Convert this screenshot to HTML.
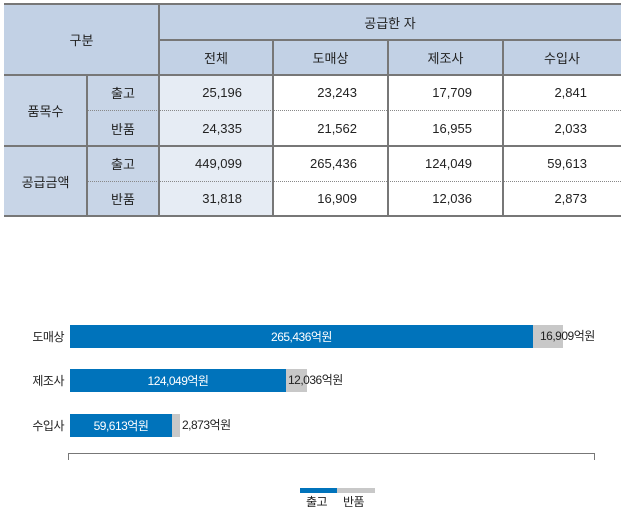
<!DOCTYPE html>
<html><head><meta charset="utf-8"><style>
body{margin:0;width:621px;height:512px;background:#fff;position:relative;overflow:hidden;font-family:"Liberation Sans","Noto Sans CJK KR",sans-serif;font-size:13px;color:#222}
.a{position:absolute;box-sizing:border-box}
.c{display:flex;align-items:center;justify-content:center}
.r{display:flex;align-items:center;justify-content:flex-end}
.hl{position:absolute;height:0}
.vl{position:absolute;width:0}
</style></head><body>
<!-- backgrounds -->
<div class="a" style="left:4px;top:4px;width:617px;height:71px;background:#c2d1e5"></div>
<div class="a" style="left:4px;top:75px;width:155px;height:141px;background:#c8d5e7"></div>
<div class="a" style="left:159px;top:75px;width:114px;height:141px;background:#e6ecf4"></div>
<!-- lines -->
<div class="hl" style="left:4px;top:3px;width:617px;border-top:2px solid #777"></div>
<div class="hl" style="left:159px;top:39px;width:462px;border-top:2px solid #777"></div>
<div class="hl" style="left:4px;top:74px;width:617px;border-top:2px solid #777"></div>
<div class="hl" style="left:87px;top:110px;width:534px;border-top:1px dotted #888"></div>
<div class="hl" style="left:4px;top:145px;width:617px;border-top:2px solid #777"></div>
<div class="hl" style="left:87px;top:181px;width:534px;border-top:1px dotted #888"></div>
<div class="hl" style="left:4px;top:215px;width:617px;border-top:2px solid #777"></div>
<div class="vl" style="left:158px;top:4px;height:212px;border-left:2px solid #777"></div>
<div class="vl" style="left:86px;top:75px;height:141px;border-left:2px solid #777"></div>
<div class="vl" style="left:272px;top:40px;height:176px;border-left:2px solid #777"></div>
<div class="vl" style="left:387px;top:40px;height:176px;border-left:2px solid #777"></div>
<div class="vl" style="left:502px;top:40px;height:176px;border-left:2px solid #777"></div>
<!-- header text -->
<div class="a c" style="left:4px;top:4px;width:155px;height:71px">구분</div>
<div class="a c" style="left:159px;top:4px;width:462px;height:36px">공급한 자</div>
<div class="a c" style="left:159px;top:40px;width:114px;height:35px">전체</div>
<div class="a c" style="left:273px;top:40px;width:115px;height:35px">도매상</div>
<div class="a c" style="left:388px;top:40px;width:115px;height:35px">제조사</div>
<div class="a c" style="left:503px;top:40px;width:118px;height:35px">수입사</div>
<div class="a c" style="left:4px;top:75px;width:83px;height:71px">품목수</div>
<div class="a c" style="left:4px;top:146px;width:83px;height:70px">공급금액</div>
<div class="a c" style="left:87px;top:75px;width:72px;height:35px">출고</div>
<div class="a c" style="left:87px;top:110px;width:72px;height:36px">반품</div>
<div class="a c" style="left:87px;top:146px;width:72px;height:35px">출고</div>
<div class="a c" style="left:87px;top:181px;width:72px;height:35px">반품</div>
<!-- numbers -->
<div class="a r" style="left:159px;top:75px;width:83px;height:35px">25,196</div>
<div class="a r" style="left:273px;top:75px;width:84px;height:35px">23,243</div>
<div class="a r" style="left:388px;top:75px;width:84px;height:35px">17,709</div>
<div class="a r" style="left:503px;top:75px;width:84px;height:35px">2,841</div>
<div class="a r" style="left:159px;top:110px;width:83px;height:36px">24,335</div>
<div class="a r" style="left:273px;top:110px;width:84px;height:36px">21,562</div>
<div class="a r" style="left:388px;top:110px;width:84px;height:36px">16,955</div>
<div class="a r" style="left:503px;top:110px;width:84px;height:36px">2,033</div>
<div class="a r" style="left:159px;top:146px;width:83px;height:35px">449,099</div>
<div class="a r" style="left:273px;top:146px;width:84px;height:35px">265,436</div>
<div class="a r" style="left:388px;top:146px;width:84px;height:35px">124,049</div>
<div class="a r" style="left:503px;top:146px;width:84px;height:35px">59,613</div>
<div class="a r" style="left:159px;top:181px;width:83px;height:35px">31,818</div>
<div class="a r" style="left:273px;top:181px;width:84px;height:35px">16,909</div>
<div class="a r" style="left:388px;top:181px;width:84px;height:35px">12,036</div>
<div class="a r" style="left:503px;top:181px;width:84px;height:35px">2,873</div>
<!-- chart -->
<div style="font-size:12px;letter-spacing:-0.5px">
<div class="a r" style="left:0;top:325px;width:64px;height:23px">도매상</div>
<div class="a r" style="left:0;top:369px;width:64px;height:23px">제조사</div>
<div class="a r" style="left:0;top:414px;width:64px;height:23px">수입사</div>
<div class="a" style="left:70px;top:325px;width:493px;height:23px;background:#c8c8c8"></div>
<div class="a c" style="left:70px;top:325px;width:463px;height:23px;background:#0073bb;color:#fff">265,436억원</div>
<div class="a" style="left:540px;top:325px;height:23px;line-height:23px">16,909억원</div>
<div class="a" style="left:70px;top:369px;width:237px;height:23px;background:#c8c8c8"></div>
<div class="a c" style="left:70px;top:369px;width:216px;height:23px;background:#0073bb;color:#fff">124,049억원</div>
<div class="a" style="left:288px;top:369px;height:23px;line-height:23px">12,036억원</div>
<div class="a" style="left:70px;top:414px;width:110px;height:23px;background:#c8c8c8"></div>
<div class="a c" style="left:70px;top:414px;width:102px;height:23px;background:#0073bb;color:#fff">59,613억원</div>
<div class="a" style="left:182px;top:414px;height:23px;line-height:23px">2,873억원</div>
<div class="hl" style="left:68px;top:453px;width:527px;border-top:1px solid #777"></div>
<div class="vl" style="left:68px;top:453px;height:7px;border-left:1px solid #777"></div>
<div class="vl" style="left:594px;top:453px;height:7px;border-left:1px solid #777"></div>
<div class="a" style="left:300px;top:488px;width:37px;height:5px;background:#0073bb"></div>
<div class="a" style="left:337px;top:488px;width:38px;height:5px;background:#c8c8c8"></div>
<div class="a" style="left:306px;top:495px;line-height:14px">출고</div>
<div class="a" style="left:343px;top:495px;line-height:14px">반품</div>
</div>
</body></html>
